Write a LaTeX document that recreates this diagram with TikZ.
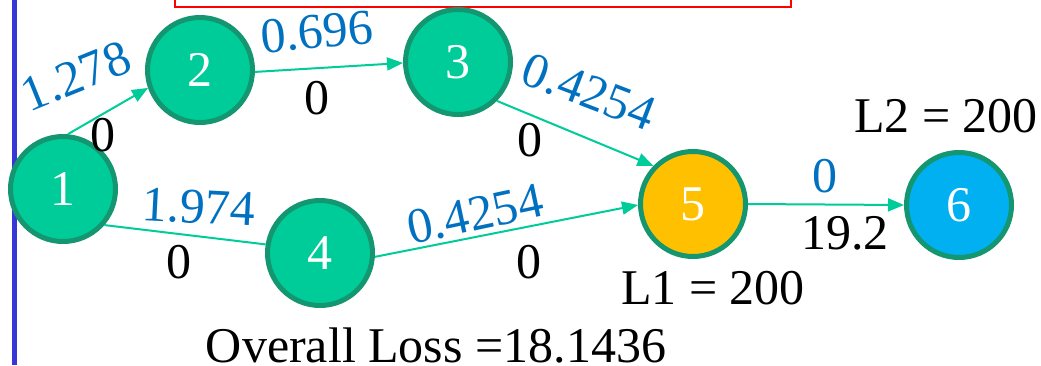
\documentclass[tikz,border=0pt]{standalone}
\usepackage{fontspec}
\setmainfont{Liberation Serif}
\usetikzlibrary{arrows.meta}
\definecolor{nodegreen}{RGB}{0,204,153}
\definecolor{borderg}{RGB}{20,150,112}
\definecolor{edgeg}{RGB}{0,204,153}
\definecolor{lblue}{RGB}{0,112,192}
\definecolor{nyellow}{RGB}{255,192,0}
\definecolor{ncyan}{RGB}{0,176,240}
\definecolor{sideblue}{RGB}{55,55,215}
\begin{document}
\begin{tikzpicture}[x=1pt,y=-1pt,
  font=\fontsize{50}{60}\selectfont,
  vnode/.style={circle,draw=borderg,line width=5pt,fill=nodegreen,text=white,minimum size=105pt,inner sep=0pt},
  conn/.style={draw=edgeg,line width=2pt},
  arr/.style={conn,-{Triangle[length=16pt,width=13pt]}},
  wlabel/.style={text=lblue,inner sep=0pt},
  llabel/.style={text=black,inner sep=0pt}]
\useasboundingbox (0,0) rectangle (1041,365);
% frame pieces
\draw[sideblue,line width=5pt] (14.5,0) -- (14.5,365);
\draw[red,line width=2.6pt] (175,-2) -- (175,7) -- (791,7) -- (791,-2);
% nodes
\node[vnode] (n1) at (63,189) {1};
\node[vnode] (n2) at (200,70) {2};
\node[vnode] (n3) at (458,62) {3};
\node[vnode] (n4) at (320,253) {4};
\node[vnode,fill=nyellow] (n5) at (693,204) {5};
\node[vnode,fill=ncyan] (n6) at (959,205) {6};
% connectors
\draw[arr] (n1.85) -- (n2.199);
\draw[arr] (n2.-2) -- (n3.181);
\draw[arr] (n3.-45) -- (n5.136);
\draw[conn] (n1.-41) -- (n4.171);
\draw[arr] (n4.-4) -- (n5.181);
\draw[arr] (n5.east) -- (n6.west);
% edge labels
\node[wlabel,rotate=22] (w12) at (76,76) {1.278};
\node[llabel] (c12) at (103,135) {0};
\node[wlabel,rotate=5] (w23) at (317,32) {0.696};
\node[llabel] (c23) at (317,98) {0};
\node[wlabel,rotate=-21] (w35) at (589,92) {0.4254};
\node[llabel] (c35) at (530,140) {0};
\node[wlabel,rotate=-3] (w14) at (199,207) {1.974};
\node[llabel] (c14) at (179,262) {0};
\node[wlabel,rotate=12] (w45) at (475,214) {0.4254};
\node[llabel] (c45) at (529,262) {0};
\node[wlabel] (w56) at (825,176) {0};
\node[llabel] (c56) at (845,233) {19.2};
% other texts
\node[llabel] (l2) at (946,116) {L2 = 200};
\node[llabel] (l1) at (713,288) {L1 = 200};
\node[llabel] (loss) at (436,345) {Overall Loss =18.1436};
\end{tikzpicture}
\end{document}
